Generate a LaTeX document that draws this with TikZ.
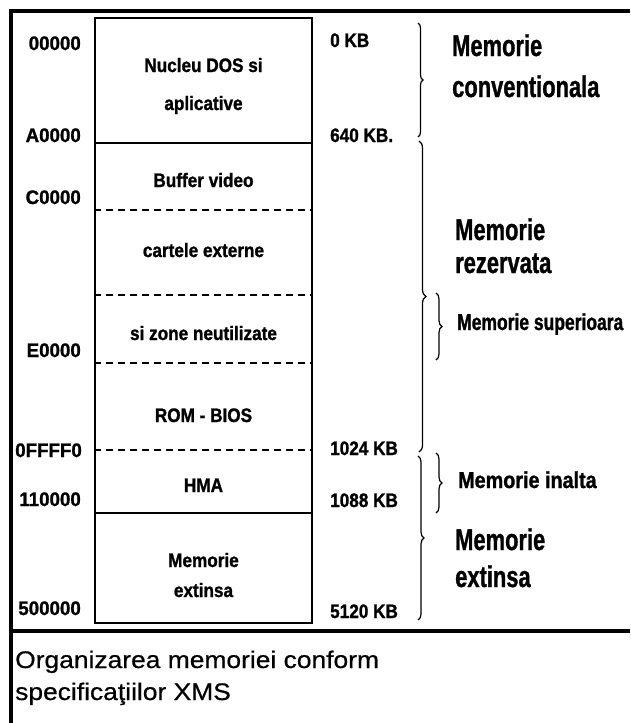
\documentclass[tikz,border=0pt]{standalone}
\usepackage{fontspec}
\usetikzlibrary{decorations.pathreplacing}
\newfontfamily\addrfont[FakeStretch=0.96,FakeBold=1.2]{Liberation Sans}
\newfontfamily\labfont[FakeStretch=0.88,FakeBold=1.2]{Liberation Sans}
\newfontfamily\midfont[FakeStretch=0.86,FakeBold=1.2]{Liberation Sans}
\newfontfamily\supfont[FakeStretch=0.76,FakeBold=1.2]{Liberation Sans}
\newfontfamily\bigfont[FakeStretch=0.73,FakeBold=1.0]{Liberation Sans}
\newfontfamily\capfont[FakeStretch=1.1,FakeBold=0.6]{Liberation Sans}
\tikzset{
  frameline/.style={line width=3.5pt},
  boxline/.style={line width=1.2pt},
  solidsep/.style={line width=2pt},
  dashsep/.style={line width=1.8pt, dash pattern=on 7pt off 5pt},
  addr/.style={anchor=base east, inner sep=0pt, font=\addrfont\bfseries\fontsize{19.5}{22}\selectfont},
  kb/.style={anchor=base west, inner sep=0pt, font=\labfont\bfseries\fontsize{19.5}{22}\selectfont},
  inbox/.style={anchor=base, inner sep=0pt, font=\labfont\bfseries\fontsize{19.5}{22}\selectfont},
  midlab/.style={anchor=base west, inner sep=0pt, font=\midfont\bfseries\fontsize{23}{26}\selectfont},
  suplab/.style={anchor=base west, inner sep=0pt, font=\supfont\bfseries\fontsize{23}{26}\selectfont},
  biglab/.style={anchor=base west, inner sep=0pt, font=\bigfont\bfseries\fontsize{30}{34}\selectfont},
  caplab/.style={anchor=base west, inner sep=0pt, font=\capfont\fontsize{24}{28}\selectfont},
  bracedeco/.style={decorate, line width=1.2pt, decoration={brace, amplitude=#1}},
}
\begin{document}
\begin{tikzpicture}[x=1pt,y=-1pt]
\useasboundingbox (0,0) rectangle (630,723);
% outer frame
\coordinate (fbl) at (11,723);
\coordinate (ftl) at (11,11);
\coordinate (ftr) at (630,11);
\coordinate (sepl) at (11,631);
\coordinate (sepr) at (630,631);
\draw[frameline] (fbl) -- (ftl) -- (ftr);
\draw[frameline] (sepl) -- (sepr);
% memory box
\node[draw, boxline, minimum width=217pt, minimum height=605pt, inner sep=0pt] (mem) at (203.5,320.5) {};
\draw[solidsep] (mem.west |- 0,143) coordinate (sA) -- (mem.east |- 0,143) coordinate (sAe);
\draw[dashsep] (mem.west |- 0,210) coordinate (dC) -- (mem.east |- 0,210) coordinate (dCe);
\draw[dashsep] (mem.west |- 0,295) coordinate (d1) -- (mem.east |- 0,295) coordinate (d1e);
\draw[dashsep] (mem.west |- 0,363) coordinate (dE) -- (mem.east |- 0,363) coordinate (dEe);
\draw[dashsep] (mem.west |- 0,450) coordinate (dF) -- (mem.east |- 0,450) coordinate (dFe);
\draw[solidsep] (mem.west |- 0,513) coordinate (s11) -- (mem.east |- 0,513) coordinate (s11e);
% texts inside box
\node[inbox] (t1) at (203.5,72) {Nucleu DOS si};
\node[inbox] (t2) at (203.5,110) {aplicative};
\node[inbox] (t3) at (203.5,187) {Buffer video};
\node[inbox] (t4) at (203.5,257) {cartele externe};
\node[inbox] (t5) at (203.5,340) {si zone neutilizate};
\node[inbox] (t6) at (203.5,422) {ROM - BIOS};
\node[inbox] (t7) at (203.5,492) {HMA};
\node[inbox] (t8) at (203.5,567) {Memorie};
\node[inbox] (t9) at (203.5,597) {extinsa};
% addresses
\node[addr] (a1) at (81,50) {00000};
\node[addr] (a2) at (81,142) {A0000};
\node[addr] (a3) at (81,204) {C0000};
\node[addr] (a4) at (81,357) {E0000};
\node[addr] (a5) at (82,457) {0FFFF0};
\node[addr] (a6) at (81,506) {110000};
\node[addr] (a7) at (81,615) {500000};
% KB values
\node[kb] (k1) at (330,47) {0 KB};
\node[kb] (k2) at (330,142) {640 KB.};
\node[kb] (k3) at (330,455) {1024 KB};
\node[kb] (k4) at (330,507) {1088 KB};
\node[kb] (k5) at (330,618) {5120 KB};
% braces
\coordinate (b1t) at (418,23);  \coordinate (b1b) at (418,137);
\coordinate (b2t) at (419,141); \coordinate (b2b) at (419,452);
\coordinate (b3t) at (436,293); \coordinate (b3b) at (436,360);
\coordinate (b4t) at (436,453); \coordinate (b4b) at (436,513);
\coordinate (b5t) at (418,456); \coordinate (b5b) at (418,620);
\draw[bracedeco=5pt] (b1t) -- (b1b);
\draw[bracedeco=7pt] (b2t) -- (b2b);
\draw[bracedeco=6pt] (b3t) -- (b3b);
\draw[bracedeco=6pt] (b4t) -- (b4b);
\draw[bracedeco=6pt] (b5t) -- (b5b);
% right labels
\node[biglab] (m1a) at (452,56) {Memorie};
\node[biglab] (m1b) at (452,97) {conventionala};
\node[biglab] (m2a) at (455,240) {Memorie};
\node[biglab] (m2b) at (455,273) {rezervata};
\node[suplab] (m3) at (457,330) {Memorie superioara};
\node[midlab] (m4) at (458,488) {Memorie inalta};
\node[biglab] (m5a) at (455,550) {Memorie};
\node[biglab] (m5b) at (455,587) {extinsa};
% caption
\node[caplab] (c1) at (15,668) {Organizarea memoriei conform};
\node[caplab] (c2) at (15,700) {specificaţiilor XMS};
\end{tikzpicture}
\end{document}
